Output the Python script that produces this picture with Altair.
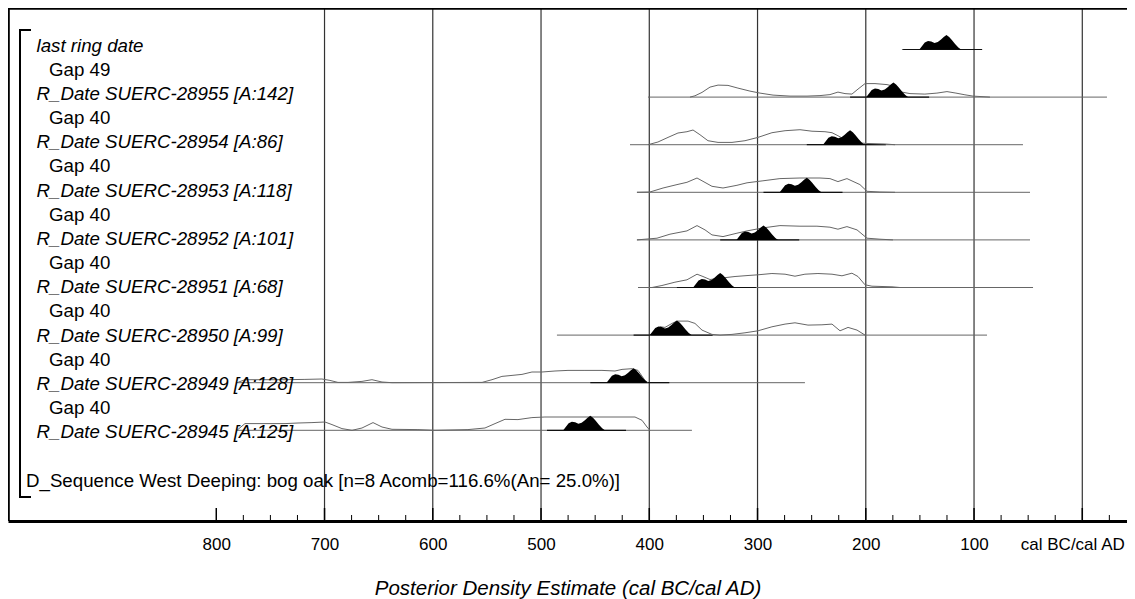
import altair as alt
import pandas as pd

# ---------------- values ----------------
# x: calendar years BC (negative = AD); y: label row index (row pitch = 23.8 px)
row_text = [
    "last ring date", "Gap 49", "R_Date SUERC-28955 [A:142]", "Gap 40",
    "R_Date SUERC-28954 [A:86]", "Gap 40", "R_Date SUERC-28953 [A:118]", "Gap 40",
    "R_Date SUERC-28952 [A:101]", "Gap 40", "R_Date SUERC-28951 [A:68]", "Gap 40",
    "R_Date SUERC-28950 [A:99]", "Gap 40", "R_Date SUERC-28949 [A:128]", "Gap 40",
    "R_Date SUERC-28945 [A:125]",
]
sequence_text = "D_Sequence West Deeping: bog oak [n=8 Acomb=116.6%(An= 25.0%)]"
sequence_row = 18

date_rows = [0, 2, 4, 6, 8, 10, 12, 14, 16]
model_peak_bc = [125.5, 174.5, 214.5, 254.5, 294.5, 334.5, 374.5, 414.5, 454.5]
line_start_bc = [166.6, 401.2, 417.8, 411.4, 411.4, 410.4, 485.3, 780.9, 780.9]
line_end_bc = [92.7, -22.8, 54.8, 48.3, 48.3, 45.5, 88.0, 256.2, 360.6]

# modelled (black) distribution shape, relative to its main peak
model_off = [25, 22.5, 20, 17, 14, 11, 8, 5, 2.5, 0, -2.5, -5, -8, -11, -13.5]
model_h = [0, 3.5, 7, 8.5, 8, 6.5, 7.5, 10, 12.5, 14.5, 12.5, 9.5, 5.5, 2, 0]
range_off = [40, -33]

# unmodelled (outline) distributions
u28955_bc = [362.4, 357.8, 351.3, 343.9, 336.5, 327.3, 318.1, 307.0, 297.7, 285.7, 270.0,
             254.3, 242.3, 233.1, 225.7, 219.2, 212.8, 207.2, 200.7, 191.5, 180.4, 173.0,
             166.6, 159.2, 145.4, 134.3, 125.0, 116.7, 108.4, 101.0, 85.3]
u28955_h = [0, 1.3, 4.7, 10, 12, 11.7, 9, 6, 4, 2, 1, 1, 1.5, 2.5, 5, 3.5, 3, 8, 13.5, 13.5,
            12.5, 10.5, 5, 3.5, 3, 4, 5.5, 4, 2.3, 1, 0]
u28954_bc = [401.2, 392.0, 382.7, 373.5, 365.2, 359.6, 353.2, 345.8, 336.5, 323.6, 311.6,
             299.6, 286.7, 274.6, 260.8, 249.7, 237.7, 231.2, 225.7, 219.2, 210.0, 200.7,
             182.3, 173.0]
u28954_h = [0, 2.7, 7.3, 11.7, 13, 14.7, 10, 4, 2.3, 2.3, 4, 7.3, 12, 14, 15, 13.5, 13, 12,
            9, 5, 2.5, 1.3, 0.7, 0]
u28953_bc = [411.4, 399.4, 387.3, 374.4, 365.2, 355.9, 350.4, 342.1, 331.9, 319.0, 309.7,
             295.0, 279.3, 260.8, 242.3, 233.1, 225.7, 217.4, 205.4, 198.9, 186.9, 173.0]
u28953_h = [0, 0.3, 4.3, 7.7, 10, 14.3, 11, 6, 4.3, 7, 9.5, 11.5, 13.7, 14.3, 14.3, 13.7,
            10.7, 13.7, 7.7, 1, 0.3, 0]
u28952_bc = [411.4, 392.9, 380.9, 365.2, 355.9, 348.5, 342.1, 331.9, 319.0, 309.7, 295.0,
             279.3, 260.8, 245.1, 233.1, 225.7, 217.4, 208.1, 198.9, 186.9, 174.9]
u28952_h = [0, 1.7, 5.7, 9, 14.3, 10, 5, 3.3, 6.7, 9, 12, 14.3, 13.7, 13.7, 12.7, 10.7,
            13.3, 10, 1.7, 0.7, 0]
u28951_bc = [410.4, 397.5, 388.3, 376.3, 365.2, 355.9, 350.4, 343.9, 332.8, 320.8, 308.8,
             299.6, 286.7, 274.6, 265.4, 256.2, 244.2, 231.2, 222.0, 212.8, 207.2, 200.7,
             194.3, 175.8, 168.4]
u28951_h = [0, 0, 2, 5.3, 7.7, 13.3, 11, 8, 9.5, 11, 12, 12.7, 14, 13.3, 11.3, 13.3, 14,
            13.3, 11.7, 14.3, 11, 2.7, 1.3, 0.7, 0]
u28950_bc = [399.4, 397.5, 390.1, 385.5, 379.0, 374.4, 364.2, 357.8, 351.3, 342.1, 334.7,
             323.6, 311.6, 299.6, 286.7, 274.6, 265.4, 253.4, 240.5, 231.2, 223.8, 216.4,
             208.1, 200.7]
u28950_h = [0, 0.7, 8.3, 7.7, 11.7, 14, 14, 11.7, 5, 0.7, 0, 0.7, 2.3, 4.3, 8.3, 11, 12.3,
            10, 10.3, 11, 4.3, 7.7, 5, 0]
u28949_bc = [780.9, 773.5, 736.5, 718.1, 702.4, 695.0, 687.6, 678.3, 665.4, 656.2, 646.9,
             637.7, 554.5, 545.3, 536.1, 526.8, 517.6, 508.4, 499.1, 487.1, 475.1, 459.4,
             443.7, 431.7, 425.2, 416.0, 410.4, 404.0, 401.2]
u28949_h = [0, 3, 3, 3.3, 3.7, 2.3, 0.3, 0.3, 1.3, 3, 0.7, 0, 0.3, 3, 6.3, 7.3, 8.3, 10.7,
            10.7, 11.7, 12.3, 12.3, 12.3, 11.7, 13.3, 14, 12.3, 2.3, 0]
u28945_bc = [780.9, 773.5, 736.5, 724.5, 711.6, 699.6, 693.1, 683.9, 674.6, 665.4, 655.2,
             646.9, 637.7, 613.7, 598.0, 567.5, 551.8, 542.5, 533.3, 521.3, 508.4, 496.4,
             475.1, 443.7, 413.2, 406.7, 402.1, 399.4]
u28945_h = [0, 6.7, 6.7, 7.3, 7.7, 8.3, 5.7, 1.7, 0, 2.3, 7.7, 3.3, 1, 0.7, 0, 0.7, 2.3,
            6.7, 11, 10.7, 12.7, 13.3, 13.3, 13.3, 13.3, 10, 3.3, 0]

grid_years = [700, 600, 500, 400, 300, 200, 100, 0]
major_ticks = [800, 700, 600, 500, 400, 300, 200, 100, 0]
minor_ticks = [775, 750, 725, 675, 650, 625, 575, 550, 525, 475, 450, 425, 375, 350, 325,
               275, 250, 225, 175, 150, 125, 75, 50, 25, -25]

# ---------------- layout ----------------
W, H = 1119, 513
ROW_PX = 23.8          # pitch of the distribution rows
TEXT_PITCH = 1.0151    # label lines are spaced slightly wider than the rows
TEXT_START = 0.092
FONT = "Liberation Sans"

xscale = alt.Scale(domain=[-41.3, 992.4], reverse=True, nice=False, zero=False)
yscale = alt.Scale(domain=[-1.744, 19.811], reverse=True, nice=False, zero=False)

xaxis = alt.Axis(
    values=major_ticks,
    labelExpr="datum.value == 0 ? 'cal BC/cal AD' : format(datum.value, 'd')",
    ticks=False, tickSize=0, grid=False,
    domain=True, domainColor="#000", domainWidth=3,
    labelFont=FONT, labelFontSize=17, labelColor="#000", labelPadding=23,
    labelBaseline="middle", labelFlush=False, labelOverlap=False, labelBound=False,
    labelOffset={"condition": {"test": "datum.value == 0", "value": -10}, "value": 0},
    title="Posterior Density Estimate (cal BC/cal AD)",
    titleFont=FONT, titleFontSize=20.5, titleFontStyle="italic", titleFontWeight="normal",
    titleColor="#000", titleBaseline="alphabetic", titleY=73,
)
X = alt.X("bc:Q", scale=xscale, axis=xaxis)
Y = alt.Y("y:Q", scale=yscale, axis=None)

# ---------------- tables ----------------
unmod = [(2, u28955_bc, u28955_h), (4, u28954_bc, u28954_h), (6, u28953_bc, u28953_h),
         (8, u28952_bc, u28952_h), (10, u28951_bc, u28951_h), (12, u28950_bc, u28950_h),
         (14, u28949_bc, u28949_h), (16, u28945_bc, u28945_h)]
un_rows = []
for r, bcs, hs in unmod:
    for b, h in zip(bcs, hs):
        un_rows.append({"row": r, "bc": b, "y": r - h / ROW_PX})
un_df = pd.DataFrame(un_rows)

mod_rows = []
for r, pk in zip(date_rows, model_peak_bc):
    for o, h in zip(model_off, model_h):
        mod_rows.append({"row": r, "bc": pk + o, "y": r - h / ROW_PX, "base": r})
mod_df = pd.DataFrame(mod_rows)

base_df = pd.DataFrame({"bc": line_start_bc, "bc2": line_end_bc, "y": date_rows})
rng_df = pd.DataFrame({"bc": [p + range_off[0] for p in model_peak_bc],
                       "bc2": [p + range_off[1] for p in model_peak_bc], "y": date_rows})

lab_df = pd.DataFrame({"label": row_text,
                       "y": [TEXT_START + i * TEXT_PITCH for i in range(len(row_text))]})
italic_df = lab_df[~lab_df["label"].str.startswith("Gap")]
gap_df = lab_df[lab_df["label"].str.startswith("Gap")]
seq_df = pd.DataFrame({"label": [sequence_text],
                       "y": [TEXT_START + sequence_row * TEXT_PITCH]})

# ---------------- layers ----------------
grid = alt.Chart(pd.DataFrame({"bc": grid_years})).mark_rule(
    color="#333", strokeWidth=1.2).encode(x=X)

baselines = alt.Chart(base_df).mark_rule(color="#666", strokeWidth=1).encode(
    x=X, x2="bc2:Q", y=Y)
ranges = alt.Chart(rng_df).mark_rule(color="#111", strokeWidth=1.2).encode(
    x=X, x2="bc2:Q", y=Y)

outline = alt.Chart(un_df).mark_line(color="#666", strokeWidth=1).encode(
    x=X, y=Y, detail="row:N")
model = alt.Chart(mod_df).mark_area(color="#000").encode(
    x=X, y=Y, y2="base:Q", detail="row:N")

major = alt.Chart(pd.DataFrame({"bc": major_ticks})).mark_rule(
    color="#000", strokeWidth=1.5).encode(x=X, y=alt.value(H - 13), y2=alt.value(H))
minor = alt.Chart(pd.DataFrame({"bc": minor_ticks})).mark_rule(
    color="#000", strokeWidth=1).encode(x=X, y=alt.value(H - 6), y2=alt.value(H))

one = pd.DataFrame({"a": [0]})
frame_top = alt.Chart(one).mark_rule(color="#000", strokeWidth=2.5).encode(
    x=alt.value(0), x2=alt.value(W), y=alt.value(0.6))
frame_left = alt.Chart(one).mark_rule(color="#000", strokeWidth=2).encode(
    x=alt.value(0.8), y=alt.value(0), y2=alt.value(H))
br_v = alt.Chart(one).mark_rule(color="#000", strokeWidth=2).encode(
    x=alt.value(12), y=alt.value(22), y2=alt.value(489))
br_t = alt.Chart(one).mark_rule(color="#000", strokeWidth=2).encode(
    x=alt.value(11), x2=alt.value(23), y=alt.value(22))
br_b = alt.Chart(one).mark_rule(color="#000", strokeWidth=2).encode(
    x=alt.value(11), x2=alt.value(23), y=alt.value(489))

txt_kw = dict(align="left", baseline="alphabetic", fontSize=18.7, font=FONT, color="#000")
t_italic = alt.Chart(italic_df).mark_text(fontStyle="italic", **txt_kw).encode(
    x=alt.value(28.5), y=Y, text="label:N")
t_gap = alt.Chart(gap_df).mark_text(**txt_kw).encode(
    x=alt.value(41), y=Y, text="label:N")
t_seq = alt.Chart(seq_df).mark_text(**txt_kw).encode(
    x=alt.value(18), y=Y, text="label:N")

chart = alt.layer(
    grid, baselines, ranges, outline, model, major, minor,
    frame_top, frame_left, br_v, br_t, br_b,
    t_italic, t_gap, t_seq,
).properties(
    width=W, height=H,
    autosize=alt.AutoSizeParams(type="none"),
    padding={"left": 0, "top": 0, "right": 0, "bottom": 85},
).configure_view(strokeWidth=0)

chart.save("out.html", embed_options={"renderer": "svg", "actions": False})
